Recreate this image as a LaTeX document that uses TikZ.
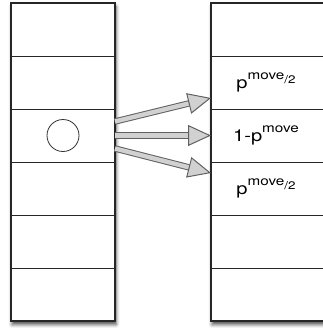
\documentclass[tikz,border=0pt]{standalone}
\usepackage{fontspec}
\setmainfont{TeX Gyre Heros}
\usepackage{tikz}
\usetikzlibrary{arrows.meta,positioning,fit,backgrounds,shadows.blur}
\tikzset{
    cell/.style ={draw=black!85, line width=0.8pt, minimum height=53pt,
                  inner sep=0pt, outer sep=0pt},
    lcell/.style={cell, minimum width=104pt},
    rcell/.style={cell, minimum width=114pt},
    column/.style={draw=black!85, line width=1.4pt, inner sep=0pt, fill=white,
                   blur shadow={shadow xshift=1pt, shadow yshift=-3.5pt,
                                shadow blur radius=3.5pt, shadow opacity=70}},
    prob/.style={font=\fontsize{16.5}{18}\selectfont},
    fat/.style={draw=black!62, line width=1pt, double=black!18, double distance=4.4pt,
                -{Triangle[open, fill=black!18, length=23pt, width=21pt, line width=1pt]}}
}
% superscripted move probability, set a little wide
\newcommand\pmv[1]{p\raisebox{0.5em}{\fontsize{12.5}{12.5}\selectfont move#1}}
\newcommand\half{\raisebox{-0.3em}{\fontsize{11}{11}\selectfont /2}}
\newcommand\wide[1]{\scalebox{1.22}[1]{#1}}

\begin{document}
\begin{tikzpicture}[x=1pt, y=-1pt, node distance=0pt]
\useasboundingbox (0,0) rectangle (323,330);

% ---- left column ----
\node[lcell] (L1) at (63,29.5) {};
\foreach \i [evaluate=\i as \j using int(\i+1)] in {1,...,5}
    \node[lcell, below=of L\i] (L\j) {};

% ---- right column ----
\node[rcell] (R1) at (268,29.5) {};
\foreach \i [evaluate=\i as \j using int(\i+1)] in {1,...,5}
    \node[rcell, below=of R\i] (R\j) {};

% ---- frames with shadow ----
\begin{scope}[on background layer]
\node[column, fit=(L1)(L6)] (Lcol) {};
\node[column, fit=(R1)(R6)] (Rcol) {};
\end{scope}

% ---- probabilities ----
\node[prob] (p1) at ([xshift=-2pt]R2) {\wide{\pmv{\half}}};
\node[prob] (p2) at ([xshift=-2pt]R3) {\wide{1-\pmv{}}};
\node[prob] (p3) at ([xshift=-2pt]R4) {\wide{\pmv{\half}}};

% ---- particle ----
\node[circle, draw=black!80, line width=0.8pt, minimum size=32pt] (dot) at (L3) {};

% ---- moves ----
\coordinate (t1) at ([yshift=14pt]L3.east);
\coordinate (t2) at (L3.east);
\coordinate (t3) at ([yshift=-13pt]L3.east);
\coordinate (h1) at ([yshift=11pt]R2.south west);
\coordinate (h2) at (R3.west);
\coordinate (h3) at ([yshift=-11pt]R4.north west);
\draw[fat] (t1) -- (h1);
\draw[fat] (t2) -- (h2);
\draw[fat] (t3) -- (h3);

\end{tikzpicture}
\end{document}
